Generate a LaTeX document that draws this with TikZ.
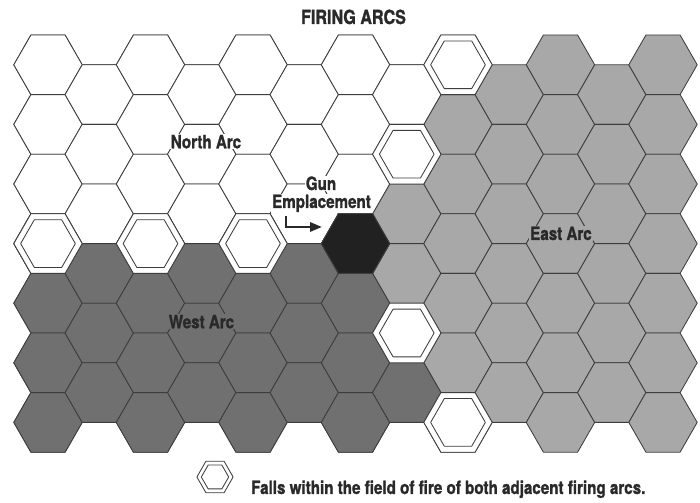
\documentclass[tikz,border=0pt]{standalone}
\usepackage{fontspec}
\setmainfont{TeX Gyre Heros}[FakeStretch=0.83, BoldFeatures={FakeBold=1.3}]
\usetikzlibrary{arrows.meta}
\definecolor{eastgray}{gray}{0.66}
\definecolor{westgray}{gray}{0.44}
\definecolor{gunblack}{gray}{0.13}
\definecolor{gridline}{gray}{0.24}
\definecolor{ink}{gray}{0.16}
% one hex cell: centre (#1,#2), size factor #3
\newcommand{\hexcell}[3]{(#1,#2) +(#3*34.2,0) -- +(#3*17.1,#3*29.8) -- +(-#3*17.1,#3*29.8) -- +(-#3*34.2,0) -- +(-#3*17.1,-#3*29.8) -- +(#3*17.1,-#3*29.8) -- cycle}
% centre of cell in column \i, row \r
\newcommand{\cellat}{\pgfmathsetmacro\cx{48+51.25*\i}\pgfmathsetmacro\cy{64.8+59.6*\r+29.8*mod(\i,2)}}
\begin{document}
\begin{tikzpicture}[x=0.025cm,y=-0.025cm,
  cell/.style={draw=gridline, line width=0.6pt, line join=round},
  arclabel/.style={font=\bfseries\fontsize{13}{15}\selectfont, text=ink, inner sep=0.6pt, anchor=base},
  gunarrow/.style={draw=ink, line width=1.8pt, line join=miter, -{Triangle[length=8.5pt,width=6.5pt]}}]
\useasboundingbox (0,0) rectangle (700,503);
% whole field, east arc colour first
\foreach \i in {0,...,12} {
  \pgfmathtruncatemacro\rmax{6-mod(\i,2)}
  \foreach \r in {0,...,\rmax} {
    \cellat
    \filldraw[cell, fill=eastgray] \hexcell{\cx}{\cy}{1};
  }
}
% north arc
\foreach \i in {0,...,6}
  \foreach \r in {0,1,2} {
    \cellat
    \filldraw[cell, fill=white] \hexcell{\cx}{\cy}{1};
  }
\filldraw[cell, fill=white] \hexcell{406.75}{94.6}{1};
% west arc
\foreach \i in {0,...,6} {
  \pgfmathtruncatemacro\rmax{6-mod(\i,2)}
  \foreach \r in {3,...,\rmax} {
    \cellat
    \filldraw[cell, fill=westgray] \hexcell{\cx}{\cy}{1};
  }
}
\filldraw[cell, fill=westgray] \hexcell{406.75}{392.6}{1};
% hexes shared by two arcs
\foreach \i/\r in {0/3,2/3,4/3,7/1,7/4,8/0,8/6} {
  \cellat
  \filldraw[cell, fill=white] \hexcell{\cx}{\cy}{1};
  \draw[cell] \hexcell{\cx}{\cy}{0.8};
}
% gun emplacement
\filldraw[cell, fill=gunblack] \hexcell{355.5}{243.6}{1};

\node[arclabel, font=\bfseries\fontsize{13.8}{15}\selectfont] (title) at (353.5,24) {FIRING ARCS};
\node[arclabel, fill=white] (north) at (206,148.3) {North Arc};
\node[arclabel, fill=westgray] (west) at (201.5,328.3) {West Arc};
\node[arclabel, fill=eastgray] (east) at (561,240) {East Arc};
\node[arclabel, fill=white] (gun) at (321,190) {Gun};
\node[arclabel, fill=white] (emplace) at (321.5,208) {Emplacement};
\coordinate (arm) at (286,216);
\coordinate (armend) at (322,227);
\draw[gunarrow] (arm) |- (armend);

% key
\coordinate (keyhex) at (215,477);
\filldraw[cell, fill=white] \hexcell{215}{477}{0.53};
\draw[cell] \hexcell{215}{477}{0.4};
\node[arclabel, anchor=base west] (keytext) at (250,494) {Falls within the field of fire of both adjacent firing arcs.};
\end{tikzpicture}
\end{document}
